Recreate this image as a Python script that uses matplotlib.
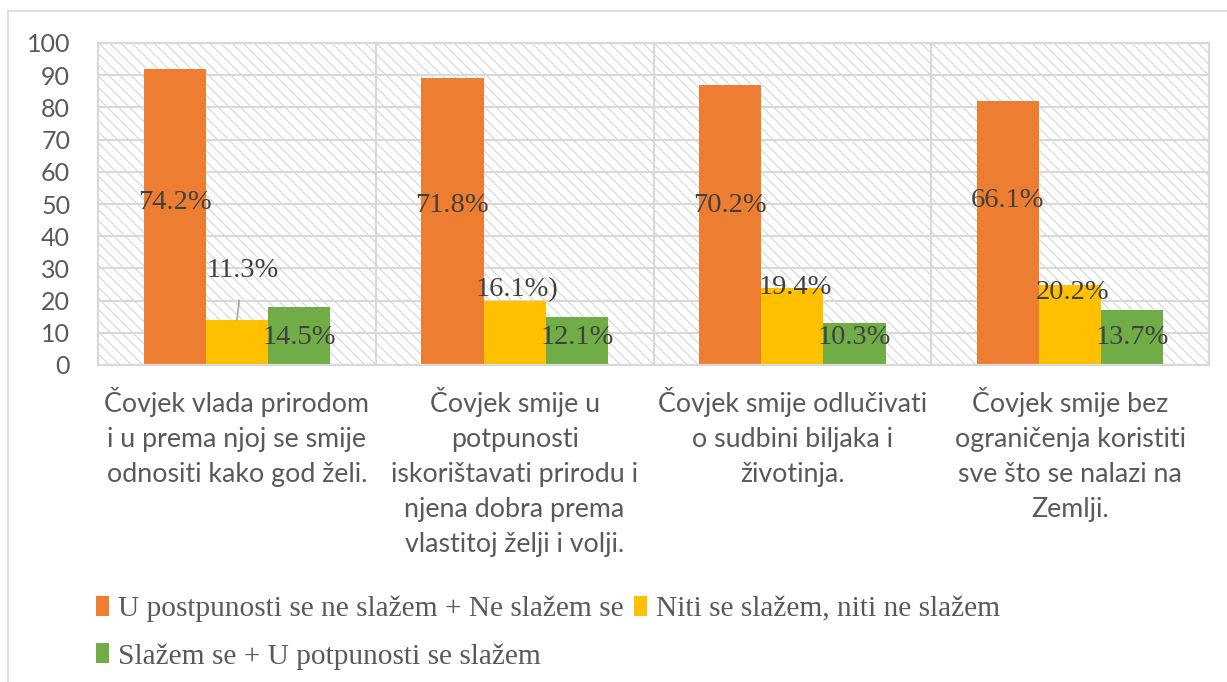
import matplotlib
matplotlib.use("Agg")
import matplotlib.pyplot as plt
import numpy as np
from matplotlib.patches import Rectangle, Patch
from matplotlib.lines import Line2D

# ---------------- data ----------------
categories = [
    "Čovjek vlada prirodom\ni u prema njoj se smije\nodnositi kako god želi.",
    "Čovjek smije u\npotpunosti\niskorištavati prirodu i\nnjena dobra prema\nvlastitoj želji i volji.",
    "Čovjek smije odlučivati\no sudbini biljaka i\nživotinja.",
    "Čovjek smije bez\nograničenja koristiti\nsve što se nalazi na\nZemlji.",
]
series_names = [
    "U postpunosti se ne slažem + Ne slažem se",
    "Niti se slažem, niti ne slažem",
    "Slažem se + U potpunosti se slažem",
]
orange_vals = [92, 89, 87, 82]
yellow_vals = [14, 20, 24, 25]
green_vals = [18, 15, 13, 17]
orange_labels = ["74.2%", "71.8%", "70.2%", "66.1%"]
yellow_labels = ["11.3%", "16.1%)", "19.4%", "20.2%"]
green_labels = ["14.5%", "12.1%", "10.3%", "13.7%"]
yticks = list(range(0, 101, 10))

# layout of the data labels (y positions in axis units)
orange_label_y = [50.5, 49.5, 49.5, 51]
yellow_label_y = [29.5, 23.5, 24, 22.5]
green_label_y = [8.5, 8.5, 8.5, 8.5]

colors = ["#ED7D31", "#FFC000", "#70AD47"]
grid_c = "#D9D9D9"
text_c = "#595959"
lab_c = "#404040"

plt.rcParams["hatch.linewidth"] = 0.8

W, H = 1227, 682
fig = plt.figure(figsize=(W / 100, H / 100), dpi=100)
L, R, T, B = 98, 1209, 43, 365
ax = fig.add_axes([L / W, 1 - B / H, (R - L) / W, (B - T) / H])

n = len(categories)
x = np.arange(n)
bw = 0.224

ax.set_xlim(-0.5, n - 0.5)
ax.set_ylim(0, 100)

# hatched background
bg = Rectangle((0, 0), 1, 1, transform=ax.transAxes, facecolor="white",
               edgecolor="#D6D6D6", hatch="\\\\\\", linewidth=0, zorder=0)
ax.add_patch(bg)

# grid
for yv in yticks:
    ax.axhline(yv, color=grid_c, lw=1.6, zorder=1)
for xv in np.arange(0.5, n - 0.5, 1):
    ax.axvline(xv, color=grid_c, lw=1.6, zorder=1)

for s in ax.spines.values():
    s.set_color(grid_c)
    s.set_linewidth(1.6)

vals = [orange_vals, yellow_vals, green_vals]
for i, (v, c) in enumerate(zip(vals, colors)):
    ax.bar(x + (i - 1) * bw, v, width=bw, color=c, zorder=2, linewidth=0)

serif = "Liberation Serif"
for i in range(n):
    ax.text(x[i] - bw, orange_label_y[i], orange_labels[i], ha="center", va="center",
            fontsize=20.5, family=serif, color=lab_c, zorder=4)
    ax.text(x[i] + bw, green_label_y[i], green_labels[i], ha="center", va="center",
            fontsize=20.5, family=serif, color=lab_c, zorder=4)
    if i == 0:
        ax.annotate(yellow_labels[i], xy=(x[i], yellow_vals[i]),
                    xytext=(x[i] + 0.022, yellow_label_y[i]),
                    ha="center", va="center", fontsize=20.5, family=serif, color=lab_c,
                    arrowprops=dict(arrowstyle="-", color="#A6A6A6", lw=1.2,
                                    shrinkA=11, shrinkB=0), zorder=4)
    else:
        ax.text(x[i] + 0.01, yellow_label_y[i], yellow_labels[i], ha="center", va="center",
                fontsize=20.5, family=serif, color=lab_c, zorder=4)

ax.set_yticks(yticks)
ax.set_yticklabels([str(t) for t in yticks], fontsize=18, family="Lato", color=text_c)
ax.set_xticks(x)
ax.set_xticklabels(categories, fontsize=19.3, family="Lato", color=text_c, linespacing=1.5,
                   va="top")
ax.tick_params(axis="both", length=0)
ax.tick_params(axis="y", pad=20)
ax.tick_params(axis="x", pad=16)

# legend
handles = [Patch(facecolor=colors[0]), Patch(facecolor=colors[2]), Patch(facecolor=colors[1])]
labels = [series_names[0], series_names[2], series_names[1]]
fig.legend(handles, labels, ncol=2, loc="upper left",
           bbox_to_anchor=(96 / W, 1 - 596 / H), frameon=False,
           prop={"family": serif, "size": 21.2}, labelcolor=text_c,
           handlelength=0.45, handleheight=0.65, handletextpad=0.3,
           columnspacing=0.35, labelspacing=0.7, borderpad=0, borderaxespad=0)

# outer frame
fig.add_artist(Line2D([8 / W, 1], [1 - 11 / H, 1 - 11 / H], color=grid_c, lw=1.2,
                      transform=fig.transFigure))
fig.add_artist(Line2D([8 / W, 8 / W], [0, 1 - 11 / H], color=grid_c, lw=1.2,
                      transform=fig.transFigure))

fig.savefig("out.png", dpi=100)
